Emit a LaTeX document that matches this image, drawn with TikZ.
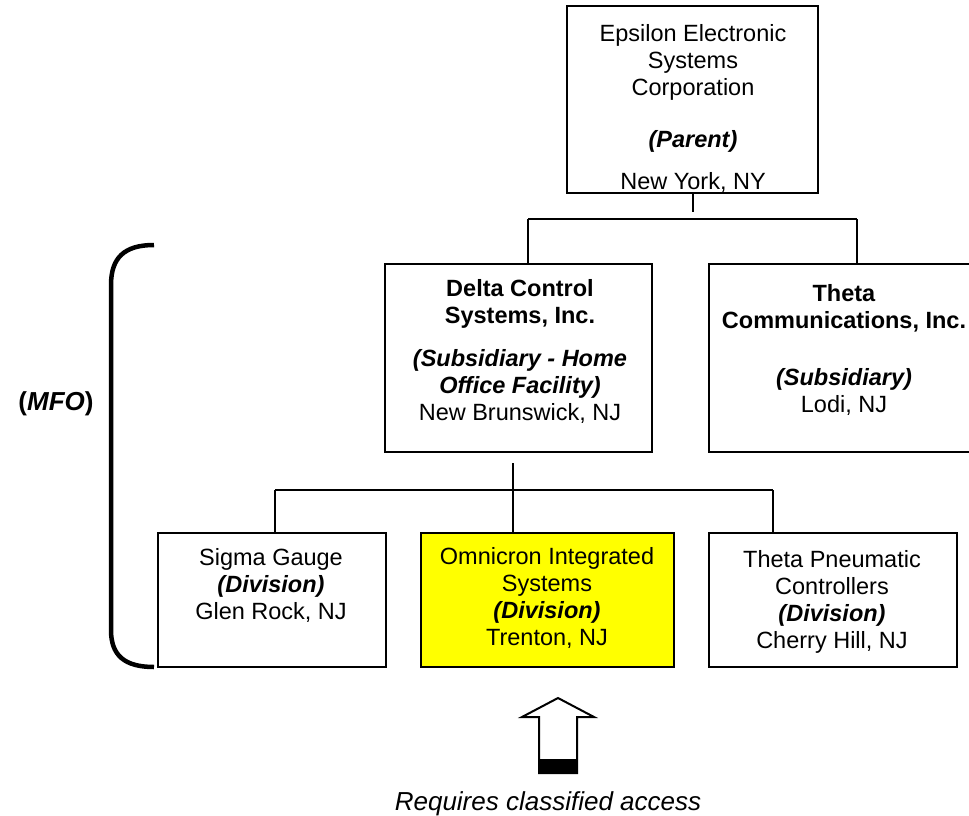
\documentclass[tikz,border=0pt]{standalone}
\usepackage{fontspec}
\setmainfont{Liberation Sans}
\usetikzlibrary{calc}
\definecolor{divyellow}{HTML}{FFFF00}
\begin{document}
\begin{tikzpicture}[x=1pt,y=-1pt,
  box/.style={draw, line width=2pt, inner sep=0pt, minimum height=187pt},
  lbl/.style={align=center, inner sep=0pt, font=\fontsize{23.5}{27}\selectfont},
  link/.style={line width=2pt}]
\useasboundingbox (0,0) rectangle (969,816);
\clip (0,0) rectangle (969,816);

% boxes
\node[box, minimum width=251pt] (parent) at (692.5,99.5) {};
\node[box, minimum width=267pt, minimum height=188pt] (delta) at (518.5,358) {};
\node[box, minimum width=276pt, minimum height=188pt] (thetac) at (847,358) {};
\node[box, minimum width=228pt, minimum height=134pt] (sigma) at (272,600) {};
\node[box, minimum width=253pt, minimum height=134pt, fill=divyellow] (omni) at (547.5,600) {};
\node[box, minimum width=248pt, minimum height=134pt] (thetap) at (833,600) {};

% box texts
\node[lbl] (parenttxt) at (693,108.5) {Epsilon Electronic\\Systems\\Corporation\\[25pt]\textbf{\textit{(Parent)}}\\[15pt]New York, NY};
\node[lbl] (deltatxt) at (520,351.5) {\textbf{Delta Control}\\\textbf{Systems, Inc.}\\[16pt]\textbf{\textit{(Subsidiary - Home}}\\\textbf{\textit{Office Facility)}}\\New Brunswick, NJ};
\node[lbl] (thetactxt) at (844,350) {\textbf{Theta}\\\textbf{Communications, Inc.}\\[30pt]\textbf{\textit{(Subsidiary)}}\\Lodi, NJ};
\node[lbl] (sigmatxt) at (271,585.5) {Sigma Gauge\\\textbf{\textit{(Division)}}\\Glen Rock, NJ};
\node[lbl] (omnitxt) at (547,598) {Omnicron Integrated\\Systems\\\textbf{\textit{(Division)}}\\Trenton, NJ};
\node[lbl] (thetaptxt) at (832,602) {Theta Pneumatic\\Controllers\\\textbf{\textit{(Division)}}\\Cherry Hill, NJ};

% upper connectors
\coordinate (pjoin) at (692.5,212);
\coordinate (busL) at (528,219);
\coordinate (busR) at (857,219);
\draw[link] (parent.south) -- (pjoin);
\draw[link] (busL) -- (busR);
\draw[link] (busL) -- (busL |- delta.north);
\draw[link] (busR) -- (busR |- thetac.north);

% lower connectors
\coordinate (dstem) at (513,463);
\coordinate (bus2L) at (275,490);
\coordinate (bus2R) at (773,490);
\draw[link] (dstem) -- (dstem |- omni.north);
\draw[link] (bus2L) -- (bus2R);
\draw[link] (bus2L) -- (bus2L |- sigma.north);
\draw[link] (bus2R) -- (bus2R |- thetap.north);

% MFO brace
\draw[line width=4.5pt] (154,245) .. controls (124,245) and (111,258) .. (111,285)
  -- (111,630) .. controls (111,655) and (124,667) .. (154,667);
\node[inner sep=0pt, font=\fontsize{26}{30}\selectfont\bfseries] (mfo) at (56,404) {(\textit{MFO})};

% classified access arrow
\draw[line width=2pt, line join=miter] (539,773) -- (539,717) -- (522,717) -- (558,698)
  -- (594,717) -- (577,717) -- (577,773) -- cycle;
\fill (539,759) rectangle (577,773);
\node[inner sep=0pt, font=\fontsize{26}{30}\selectfont\itshape] (access) at (548,804) {Requires classified access};
\end{tikzpicture}
\end{document}
